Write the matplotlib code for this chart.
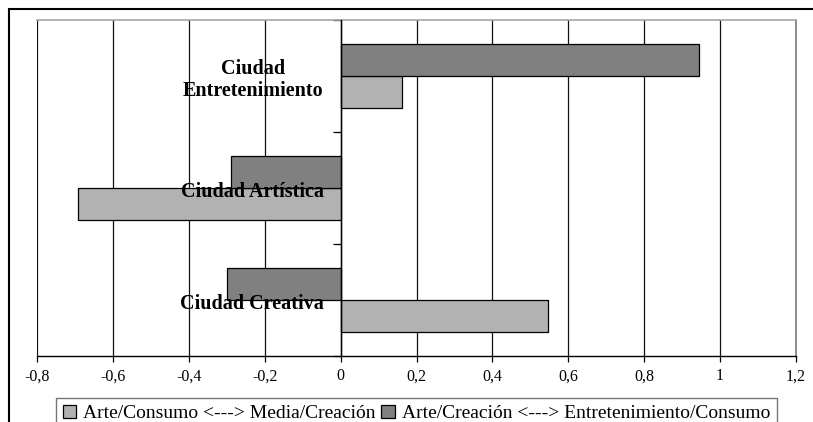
import matplotlib
matplotlib.use("Agg")
import matplotlib.pyplot as plt
from matplotlib.patches import Rectangle, Patch
from matplotlib.ticker import FixedLocator, NullFormatter
from matplotlib.transforms import blended_transform_factory, offset_copy

plt.rcParams['font.family'] = ['Liberation Serif', 'DejaVu Serif']

categories = ["Ciudad Creativa", "Ciudad Artística", "Ciudad\nEntretenimiento"]
series_names = ["Arte/Consumo <---> Media/Creación",
                "Arte/Creación <---> Entretenimiento/Consumo"]
consumo_media = [0.546, -0.691, 0.161]
creacion_entret = [-0.300, -0.290, 0.944]
x_ticks = [-0.8, -0.6, -0.4, -0.2, 0, 0.2, 0.4, 0.6, 0.8, 1.0, 1.2]
x_tick_labels = ["-0,8", "-0,6", "-0,4", "-0,2", "0", "0,2", "0,4", "0,6", "0,8", "1", "1,2"]

W, H = 813, 422
fig = plt.figure(figsize=(W / 100, H / 100), dpi=100)

# outer chart border (left and top edges)
fig.add_artist(Rectangle((9 / W, -0.05), 1.2, (H - 9) / H + 0.05,
                         transform=fig.transFigure, fill=False,
                         edgecolor='black', lw=1.5, zorder=0))

ax = fig.add_axes([37 / W, 66 / H, (796 - 37) / W, (356 - 20) / H])

pos = list(range(len(categories)))
h = 0.29
light = '#b2b2b2'
dark = '#808080'
ax.barh([p - h / 2 for p in pos], consumo_media, height=h, color=light,
        edgecolor='black', lw=0.9, zorder=3)
ax.barh([p + h / 2 for p in pos], creacion_entret, height=h, color=dark,
        edgecolor='black', lw=0.9, zorder=3)

ax.set_xlim(-0.8, 1.2)
ax.set_ylim(-0.5, len(categories) - 0.5)

ax.set_xticks(x_ticks)
ax.set_xticklabels(x_tick_labels, fontsize=11.5)
ax.grid(axis='x', color='#111111', lw=0.9, zorder=1)
ax.tick_params(axis='x', direction='out', length=4, width=0.9, pad=5, color='black')

# category axis sits at x = 0
ax.spines['left'].set_position(('data', 0))
ax.spines['left'].set_zorder(4)
ax.spines['left'].set_linewidth(1.0)
ax.spines['top'].set_color('#a6a6a6')
ax.spines['top'].set_linewidth(1.2)
ax.spines['right'].set_color('#7a7a7a')
ax.spines['right'].set_linewidth(1.2)
ax.spines['bottom'].set_linewidth(1.0)

ax.yaxis.set_major_locator(FixedLocator([p - 0.5 for p in pos] + [pos[-1] + 0.5]))
ax.yaxis.set_major_formatter(NullFormatter())
ax.tick_params(axis='y', which='major', direction='out', length=6, width=0.9)

# category names next to the zero axis, drawn over the bars
lbl_tr = offset_copy(blended_transform_factory(ax.transData, ax.transData),
                     fig=fig, x=-17, y=-4, units='dots')
for p, name in zip(pos, categories):
    ax.text(0, p, name, transform=lbl_tr, ha='right', va='center',
            multialignment='center', fontsize=14.5, fontweight='bold',
            linespacing=1.1, zorder=6)

handles = [Patch(facecolor=light, edgecolor='black', lw=0.9),
           Patch(facecolor=dark, edgecolor='black', lw=0.9)]
leg = fig.legend(handles, series_names, loc='upper center',
                 bbox_to_anchor=(416.5 / W, (H - 398) / H), ncol=2,
                 fontsize=14.0, frameon=True, fancybox=False,
                 handlelength=0.7, handleheight=0.7, handletextpad=0.35,
                 columnspacing=0.3, borderpad=0.35, borderaxespad=0)
leg.get_frame().set_edgecolor('#555555')
leg.get_frame().set_linewidth(1.0)

fig.savefig("out.png", dpi=100)
